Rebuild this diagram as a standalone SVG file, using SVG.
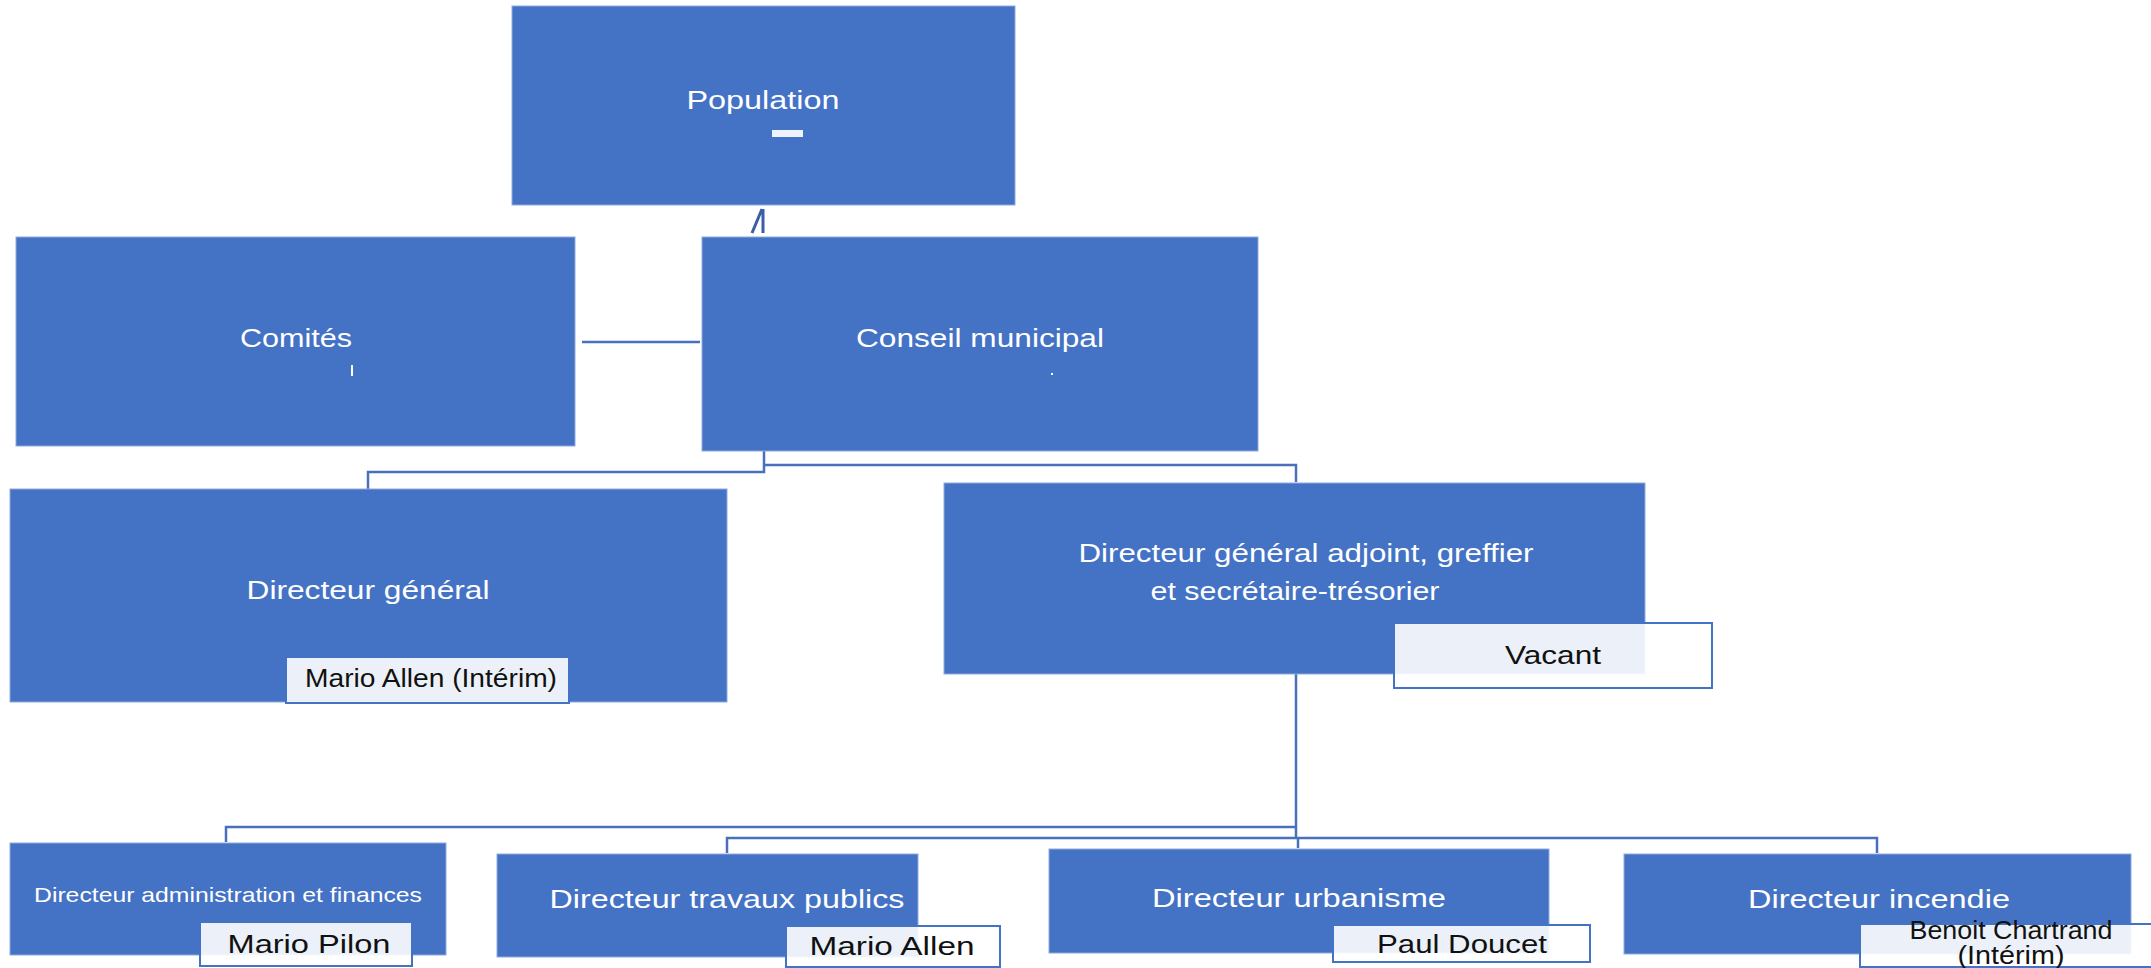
<svg xmlns="http://www.w3.org/2000/svg" width="2151" height="968" viewBox="0 0 2151 968">
<style>
.node{fill:#4472C4;stroke:#8FAADC;stroke-width:1}
.lbl{font-family:"Liberation Sans",Arial,sans-serif;fill:#FFFFFF;font-size:26px;text-anchor:middle}
.sm{font-size:21px}
.nb{fill:#FFFFFF;fill-opacity:0.9;stroke:#4472C4;stroke-width:2}
.nt{font-family:"Liberation Sans",Arial,sans-serif;fill:#111111;font-size:25px;text-anchor:middle}
.con{fill:none;stroke:#4A70BC;stroke-width:2.5}
</style>
<rect width="2151" height="968" fill="#FFFFFF"/>
<g id="connectors">
<path class="con" d="M582 342 H700"/>
<path class="con" d="M764 451 V472 H368 V489"/>
<path class="con" d="M764 465 H1296 V482"/>
<path class="con" d="M1296 674 V838"/>
<path class="con" d="M1296 827 H226 V842"/>
<path class="con" d="M727 853 V838 H1877 V853"/>
<path class="con" d="M1298 838 V848"/>
<path d="M752 233 L762 209 M763 209 V233" fill="none" stroke="#3A5FA8" stroke-width="3"/>
</g>
<g id="population">
<rect class="node" x="512" y="6" width="503" height="199"/>
<text class="lbl" x="763" y="109" textLength="153" lengthAdjust="spacingAndGlyphs">Population</text>
<rect x="772" y="130" width="31" height="7" fill="#EEF2FA"/>
</g>
<g id="comites">
<rect class="node" x="16" y="237" width="559" height="209"/>
<text class="lbl" x="296" y="347" textLength="112" lengthAdjust="spacingAndGlyphs">Comités</text>
<line x1="352" y1="365" x2="352" y2="376" stroke="#FFFFFF" stroke-width="2"/>
</g>
<g id="conseil">
<rect class="node" x="702" y="237" width="556" height="214"/>
<text class="lbl" x="980" y="347" textLength="248" lengthAdjust="spacingAndGlyphs">Conseil municipal</text>
<rect x="1051" y="373" width="2" height="2" fill="#FFFFFF"/>
</g>
<g id="dg">
<rect class="node" x="10" y="489" width="717" height="213"/>
<text class="lbl" x="368" y="599" textLength="243" lengthAdjust="spacingAndGlyphs">Directeur général</text>
<rect class="nb" x="286" y="657" width="283" height="46"/>
<text class="nt" x="431" y="687" textLength="252" lengthAdjust="spacingAndGlyphs">Mario Allen (Intérim)</text>
</g>
<g id="dga">
<rect class="node" x="944" y="483" width="701" height="191"/>
<text class="lbl" x="1306" y="562" textLength="455" lengthAdjust="spacingAndGlyphs">Directeur général adjoint, greffier</text>
<text class="lbl" x="1295" y="600" textLength="289" lengthAdjust="spacingAndGlyphs">et secrétaire-trésorier</text>
<rect class="nb" x="1394" y="623" width="318" height="65"/>
<text class="nt" x="1553" y="664" textLength="96" lengthAdjust="spacingAndGlyphs">Vacant</text>
</g>
<g id="admin">
<rect class="node" x="10" y="843" width="436" height="112"/>
<text class="lbl sm" x="228" y="902" textLength="388" lengthAdjust="spacingAndGlyphs">Directeur administration et finances</text>
<rect class="nb" x="200" y="922" width="212" height="44"/>
<text class="nt" x="309" y="953" textLength="163" lengthAdjust="spacingAndGlyphs">Mario Pilon</text>
</g>
<g id="travaux">
<rect class="node" x="497" y="854" width="421" height="103"/>
<text class="lbl" x="727" y="908" textLength="355" lengthAdjust="spacingAndGlyphs">Directeur travaux publics</text>
<rect class="nb" x="786" y="926" width="214" height="41"/>
<text class="nt" x="892" y="955" textLength="165" lengthAdjust="spacingAndGlyphs">Mario Allen</text>
</g>
<g id="urbanisme">
<rect class="node" x="1049" y="849" width="500" height="104"/>
<text class="lbl" x="1299" y="907" textLength="294" lengthAdjust="spacingAndGlyphs">Directeur urbanisme</text>
<rect class="nb" x="1333" y="925" width="257" height="37"/>
<text class="nt" x="1462" y="953" textLength="170" lengthAdjust="spacingAndGlyphs">Paul Doucet</text>
</g>
<g id="incendie">
<rect class="node" x="1624" y="854" width="507" height="100"/>
<text class="lbl" x="1879" y="908" textLength="262" lengthAdjust="spacingAndGlyphs">Directeur incendie</text>
<rect class="nb" x="1860" y="924" width="300" height="43"/>
<text class="nt" x="2011" y="939" font-size="21" textLength="203" lengthAdjust="spacingAndGlyphs">Benoit Chartrand</text>
<text class="nt" x="2011" y="964" font-size="21" textLength="107" lengthAdjust="spacingAndGlyphs">(Intérim)</text>
</g>
</svg>
